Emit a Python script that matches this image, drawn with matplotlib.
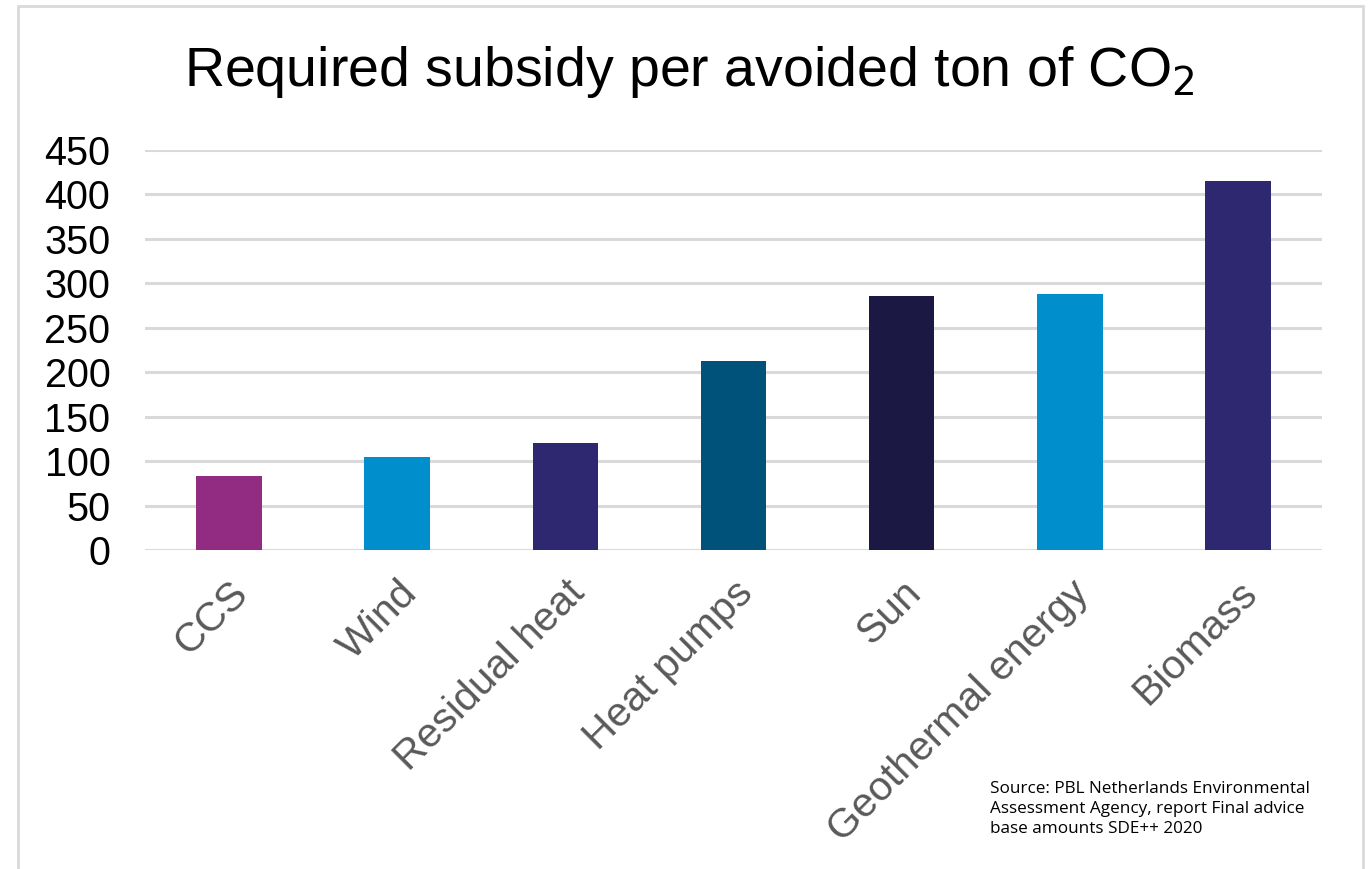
import matplotlib.pyplot as plt
from matplotlib.patches import Rectangle

# Data
categories = ["CCS", "Wind", "Residual heat", "Heat pumps", "Sun",
              "Geothermal energy", "Biomass"]
subsidy = [83, 105, 120, 213, 286, 288, 415]
bar_colors = ["#922B82", "#008FCC", "#2E2870", "#00527A", "#1B1944",
              "#008FCC", "#2E2870"]
y_ticks = [0, 50, 100, 150, 200, 250, 300, 350, 400, 450]

plt.rcParams['font.family'] = ['Liberation Sans', 'DejaVu Sans']

fig = plt.figure(figsize=(13.71, 8.69), dpi=100)

# Chart frame (light gray border)
fig.patches.append(Rectangle((18 / 1371, -0.01), (1363 - 18) / 1371, 1.0 - 6 / 869 + 0.01,
                             transform=fig.transFigure, fill=False,
                             edgecolor="#D9D9D9", linewidth=2))

ax = fig.add_axes([145 / 1371, 1 - 550 / 869, (1322 - 145) / 1371, 400 / 869])
x = range(len(categories))
ax.bar(x, subsidy, width=0.39, color=bar_colors, zorder=3)

ax.set_ylim(0, 450)
ax.set_xlim(-0.5, len(categories) - 0.5)
ax.set_yticks(y_ticks)
ax.yaxis.grid(True, color="#D9D9D9", linewidth=2.2, zorder=0)
ax.set_axisbelow(True)
for s in ax.spines.values():
    s.set_visible(False)
ax.tick_params(axis="y", length=0, pad=25, labelsize=28.5, labelcolor="black")
ax.tick_params(axis="x", length=0, pad=17, labelsize=29.5, labelcolor="#595959")
ax.set_xticks(list(x))
ax.set_xticklabels(categories, rotation=45, ha="right", va="top",
                   rotation_mode="anchor")

fig.text(0.503, 0.917, "Required subsidy per avoided ton of CO$_2$",
         ha="center", va="center", fontsize=40)

fig.text(990 / 1371, 1 - 809 / 869,
         "Source: PBL Netherlands Environmental\nAssessment Agency, report Final advice\nbase amounts SDE++ 2020",
         ha="left", va="center", fontsize=12.3, linespacing=1.3,
         family=["Open Sans", "DejaVu Sans"])

fig.savefig("out.png", dpi=100)
